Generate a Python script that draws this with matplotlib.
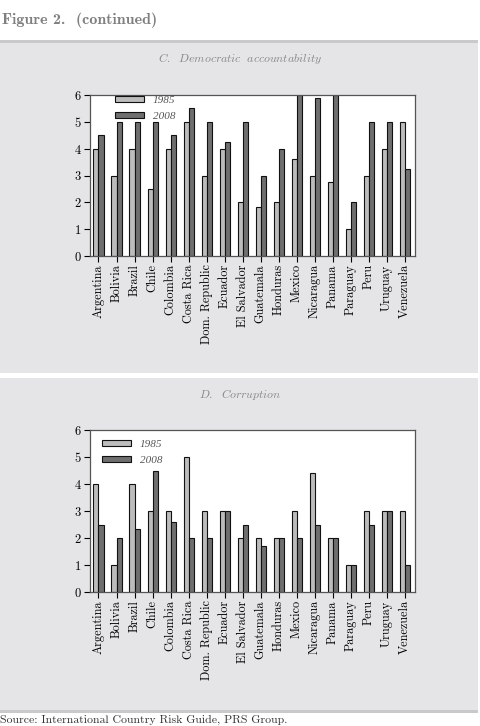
# Figure 2 (continued): ICRG democratic accountability and corruption, 1985 vs 2008

import matplotlib
matplotlib.use("Agg")
import matplotlib.pyplot as plt
import numpy as np
from matplotlib.patches import Rectangle

plt.rcParams["font.family"] = ["cmr10", "DejaVu Serif"]
plt.rcParams["mathtext.fontset"] = "cm"
plt.rcParams["axes.formatter.use_mathtext"] = True

countries = ["Argentina", "Bolivia", "Brazil", "Chile", "Colombia", "Costa Rica",
             "Dom. Republic", "Ecuador", "El Salvador", "Guatemala", "Honduras",
             "Mexico", "Nicaragua", "Panama", "Paraguay", "Peru", "Uruguay", "Venezuela"]
years = ["1985", "2008"]

# C. Democratic accountability
demacc_1985 = [4, 3, 4, 2.5, 4, 5, 3, 4, 2, 1.83, 2, 3.6, 3, 2.75, 1, 3, 4, 5]
demacc_2008 = [4.5, 5, 5, 5, 4.5, 5.5, 5, 4.25, 5, 3, 4, 6, 5.9, 6, 2, 5, 5, 3.25]

# D. Corruption
corr_1985 = [4, 1, 4, 3, 3, 5, 3, 3, 2, 2, 2, 3, 4.42, 2, 1, 3, 3, 3]
corr_2008 = [2.5, 2, 2.33, 4.5, 2.58, 2, 2, 3, 2.5, 1.7, 2, 2, 2.5, 2, 1, 2.5, 3, 1]

W, H = 480, 726
fig = plt.figure(figsize=(W / 100, H / 100), dpi=100)
fig.patch.set_facecolor("white")

panel_col = "#e5e5e7"
edge_col = "#c9c9cb"


def fy(px):
    return 1 - px / H


def band(top, bottom, col):
    fig.patches.append(Rectangle((0, fy(bottom)), 478 / W, (bottom - top) / H,
                                 transform=fig.transFigure, facecolor=col,
                                 edgecolor="none", zorder=-5))


band(40, 373, panel_col)
band(378, 710, panel_col)
band(40, 43, edge_col)
band(710, 713, edge_col)

fig.text(2 / W, fy(20), "Figure 2.  (continued)", fontsize=11.5, color="#808080",
         family="cmb10", va="center", ha="left")
fig.text(0 / W, fy(725), "Source: International Country Risk Guide, PRS Group.",
         fontsize=8.5, color="#333333", va="bottom", ha="left")


def draw(top, bottom, title, title_y, v85, v08, leg_anchor):
    ax = fig.add_axes([90 / W, fy(bottom), 325 / W, (bottom - top) / H])
    x = np.arange(len(countries))
    bw = 0.28
    ax.bar(x - bw / 2, v85, bw, color="#bcbcbc", edgecolor="#111111", linewidth=0.8,
           label=years[0])
    ax.bar(x + bw / 2, v08, bw, color="#6f6f6f", edgecolor="#111111", linewidth=0.8,
           label=years[1])
    ax.set_ylim(0, 6)
    ax.set_xlim(-0.47, 17.55)
    ax.set_yticks(range(7))
    ax.set_xticks(x)
    ax.set_xticklabels(countries, rotation=90, fontsize=8.8)
    ax.tick_params(axis="y", labelsize=9, length=4, width=0.8, pad=2)
    ax.tick_params(axis="x", length=4, width=0.8, pad=2)
    for s in ax.spines.values():
        s.set_color("#555555")
        s.set_linewidth(0.9)
    ax.set_facecolor("white")
    ax.legend(loc="upper left", bbox_to_anchor=leg_anchor, frameon=False,
              handlelength=2.6, handleheight=0.55, labelspacing=0.6,
              borderaxespad=0, borderpad=0, handletextpad=0.8,
              labelcolor="#555555",
              prop={"family": "Liberation Serif", "style": "italic", "size": 8})
    fig.text(0.5, fy(title_y), title, ha="center", va="center", fontsize=8.5,
             color="#888888")
    return ax


draw(95, 256, r"$\mathit{C.\ \ Democratic\ \ accountability}$", 59,
     demacc_1985, demacc_2008, (0.077, 0.995))
draw(430, 592, r"$\mathit{D.\ \ Corruption}$", 394, corr_1985, corr_2008,
     (0.037, 0.94))

fig.savefig("out.png", dpi=100, facecolor="white")
